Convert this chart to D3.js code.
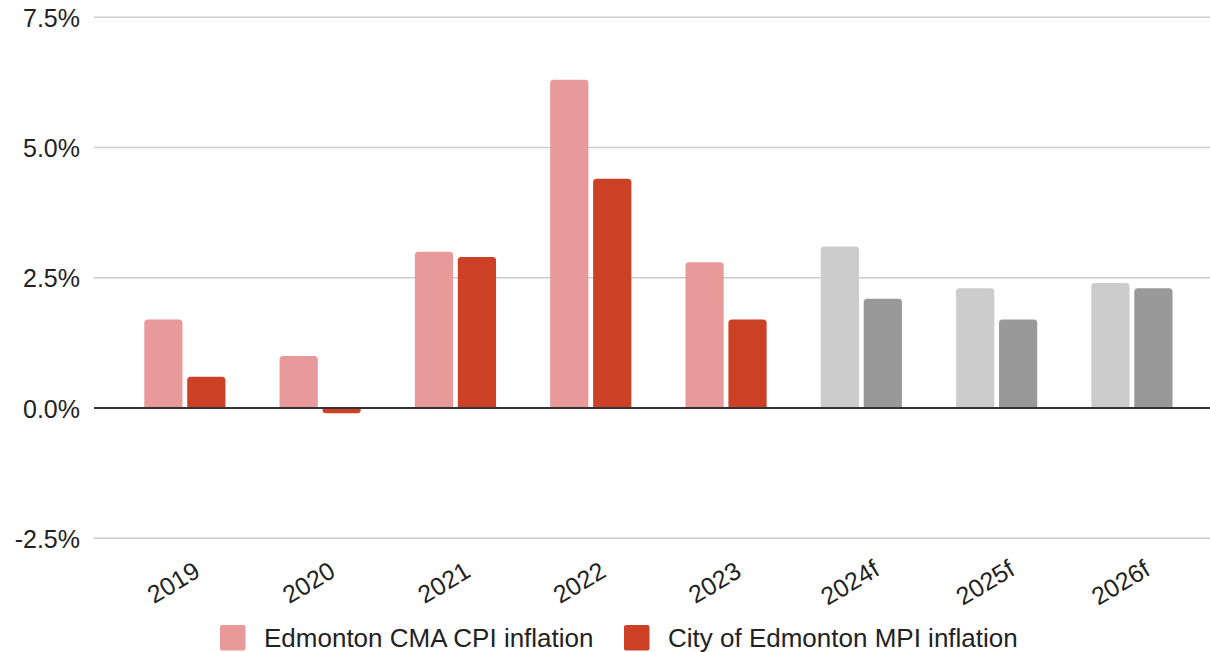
<!DOCTYPE html>
<html lang="en">
<head>
<meta charset="UTF-8">
<title>Edmonton inflation</title>
<script src="https://d3js.org/d3.v7.min.js"></script>
<style>
  body { margin: 0; background: #fff; }
  svg text { font-family: "Liberation Sans", Arial, sans-serif; fill: #222; }
</style>
</head>
<body>
<div id="chart"></div>
<script>
// data
const years = ['2019', '2020', '2021', '2022', '2023', '2024f', '2025f', '2026f'];
const cmaCpi = [1.7, 1.0, 3.0, 6.3, 2.8, 3.1, 2.3, 2.4];
const mpi = [0.6, -0.1, 2.9, 4.4, 1.7, 2.1, 1.7, 2.3];
const yTicks = [-2.5, 0, 2.5, 5.0, 7.5];
const seriesNames = ['Edmonton CMA CPI inflation', 'City of Edmonton MPI inflation'];

const colors = {
  actual: ['#e89a9a', '#cc4125'],
  forecast: ['#cccccc', '#999999']
};

const width = 1210, height = 652;

const svg = d3.select('#chart').append('svg')
  .attr('width', width)
  .attr('height', height);

const y = d3.scaleLinear().domain([-2.5, 7.5]).range([538.3, 17.3]);

const x = d3.scaleBand()
  .domain(years)
  .range([117.2, 1199.6])
  .paddingInner(0.4)
  .paddingOuter(0.2);

const xInner = d3.scaleBand()
  .domain([0, 1])
  .range([0, x.bandwidth()])
  .paddingInner(0.11);

// gridlines
svg.append('g')
  .selectAll('line')
  .data(yTicks.filter(d => d !== 0))
  .join('line')
  .attr('x1', 94).attr('x2', 1210)
  .attr('y1', d => y(d)).attr('y2', d => y(d))
  .attr('stroke', '#cccccc')
  .attr('stroke-width', 1.5);

// y labels
svg.append('g')
  .selectAll('text')
  .data(yTicks)
  .join('text')
  .attr('x', 80)
  .attr('y', d => y(d) + 9.5)
  .attr('text-anchor', 'end')
  .style('font-size', '25px')
  .text(d => d.toFixed(1) + '%');

// rounded-end bar path
function barPath(x0, w, v0, v1, r) {
  const top = Math.min(v0, v1), bot = Math.max(v0, v1);
  const h = bot - top;
  r = Math.min(r, h, w / 2);
  if (v1 <= v0) {
    // positive bar, round top
    return `M${x0},${bot}V${top + r}Q${x0},${top} ${x0 + r},${top}H${x0 + w - r}Q${x0 + w},${top} ${x0 + w},${top + r}V${bot}Z`;
  }
  return `M${x0},${top}V${bot - r}Q${x0},${bot} ${x0 + r},${bot}H${x0 + w - r}Q${x0 + w},${bot} ${x0 + w},${bot - r}V${top}Z`;
}

const rows = years.map((yr, i) => ({ yr, vals: [cmaCpi[i], mpi[i]], fc: yr.endsWith('f') }));

const groups = svg.append('g')
  .selectAll('g')
  .data(rows)
  .join('g')
  .attr('transform', d => `translate(${x(d.yr)},0)`);

groups.selectAll('path')
  .data(d => d.vals.map((v, k) => ({ v, k, fc: d.fc })))
  .join('path')
  .attr('d', d => barPath(xInner(d.k), xInner.bandwidth(), y(0), y(d.v), 3.5))
  .attr('fill', d => (d.fc ? colors.forecast : colors.actual)[d.k]);

// zero line
svg.append('line')
  .attr('x1', 94).attr('x2', 1210)
  .attr('y1', y(0)).attr('y2', y(0))
  .attr('stroke', '#333')
  .attr('stroke-width', 2);

// x labels, rotated about their middle
svg.append('g')
  .selectAll('text')
  .data(years)
  .join('text')
  .attr('transform', d => `translate(${x(d) + x.bandwidth() / 2 - 7},590) rotate(-31)`)
  .attr('text-anchor', 'middle')
  .style('font-size', '25px')
  .text(d => d);

// legend
const legend = svg.append('g');
const legendX = [220, 624];
seriesNames.forEach((name, k) => {
  legend.append('rect')
    .attr('x', legendX[k]).attr('y', 625)
    .attr('width', 25.5).attr('height', 25.5)
    .attr('rx', 2)
    .attr('fill', colors.actual[k]);
  legend.append('text')
    .attr('x', legendX[k] + 44).attr('y', 646.5)
    .style('font-size', '26px')
    .text(name);
});
</script>
</body>
</html>
